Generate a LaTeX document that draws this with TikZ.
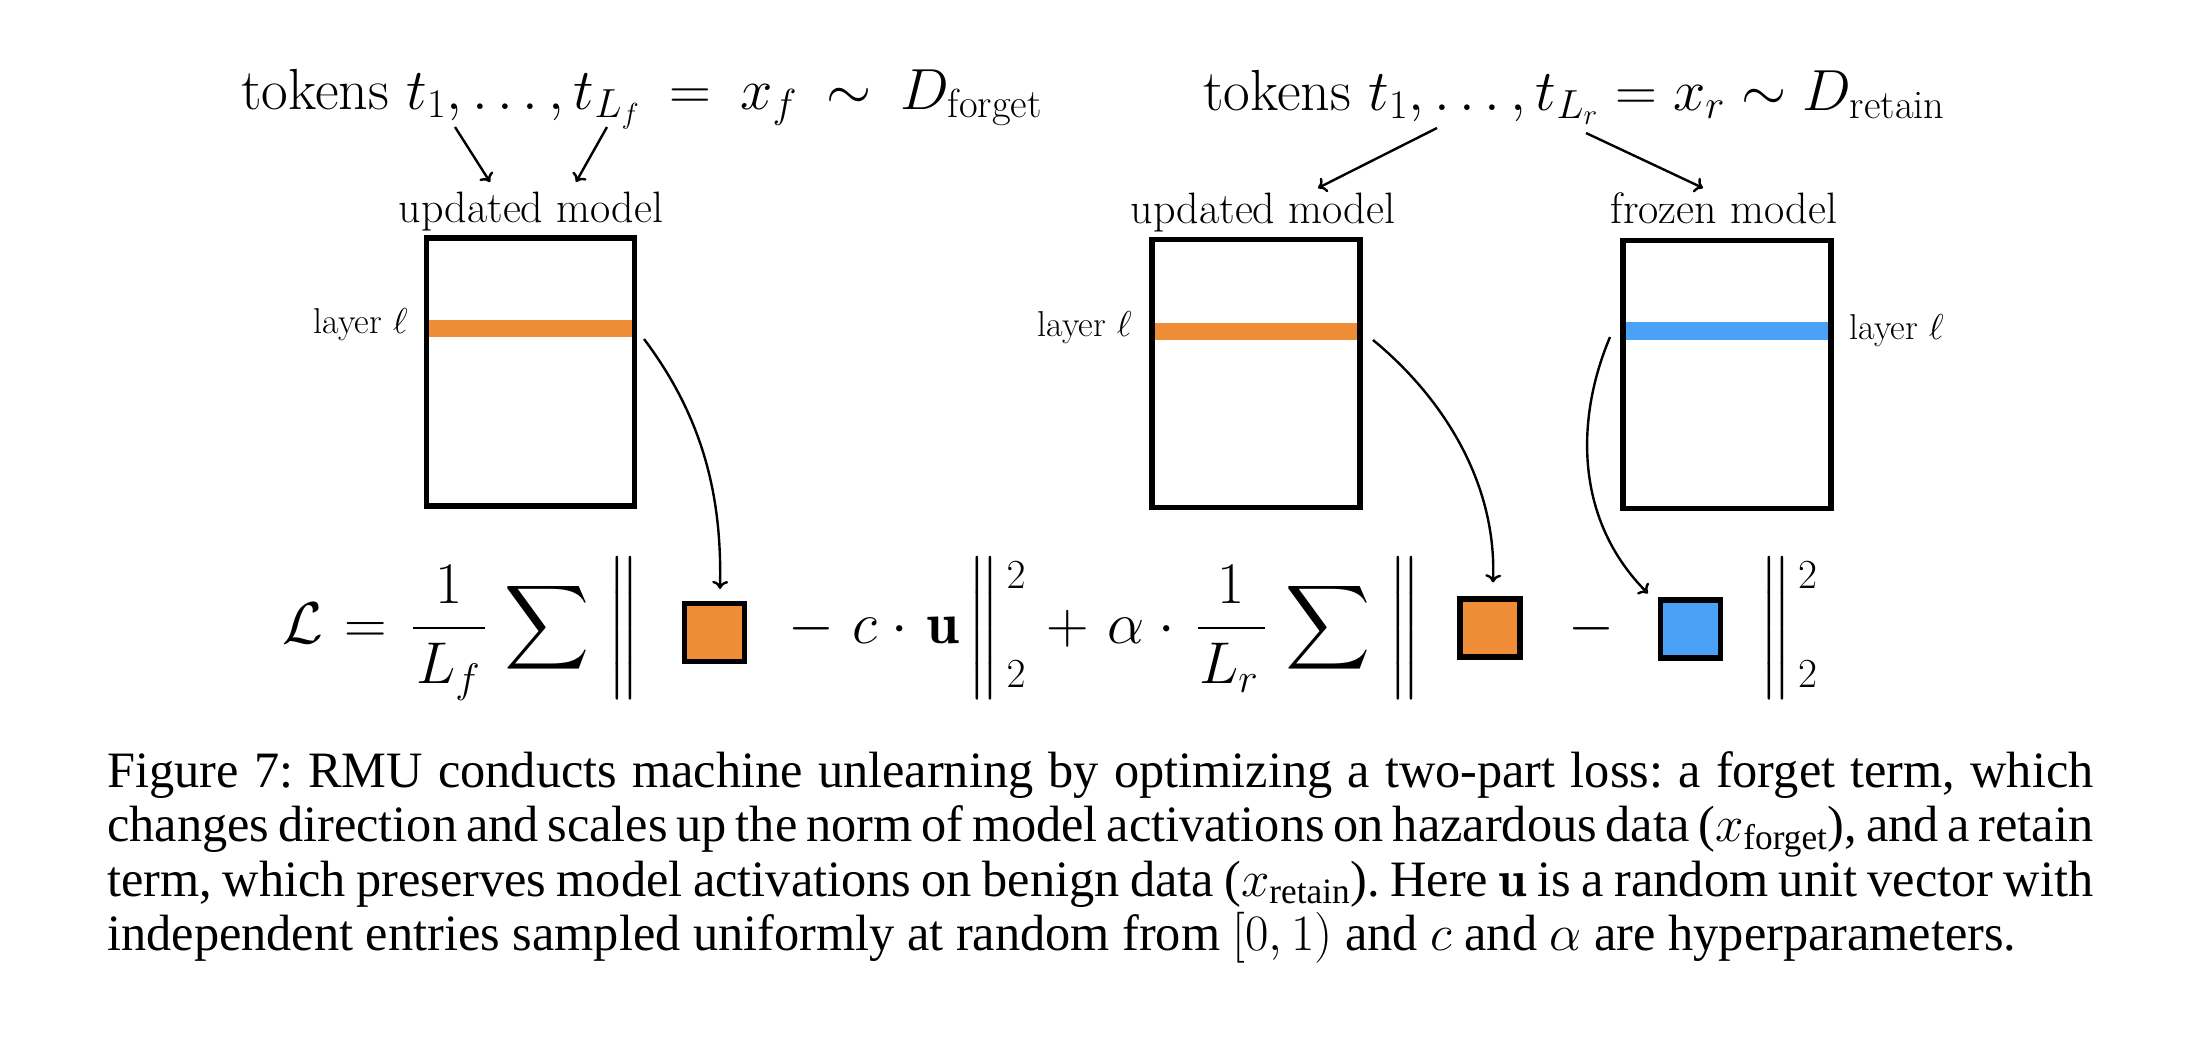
\RequirePackage{fix-cm}
\documentclass[tikz,border=0pt]{standalone}
\usepackage{amsmath}
\usepackage{graphicx}
\usepackage{fontspec}
\DeclareFontShape{OMX}{cmex}{m}{n}{<->cmex10}{}
\newfontfamily\capfont[FakeStretch=0.987]{Liberation Serif}
\usetikzlibrary{arrows.meta,calc}
\definecolor{rmuorange}{RGB}{238,141,53}
\definecolor{rmublue}{RGB}{74,162,247}
\newcommand{\nrmstrut}{\rule[-22pt]{0pt}{58.5pt}}
\newcommand{\nrmbigsum}{\mathop{\mathchar"1358}}
\delimitershortfall=-0.5pt
\delimiterfactor=1001
\tikzset{
  modelbox/.style={draw, line width=2.6pt, minimum width=104pt, minimum height=134pt, inner sep=0pt},
  layerbar/.style={inner sep=0pt, outer sep=0pt, minimum width=104pt, minimum height=8.75pt},
  actsq/.style={draw, line width=2.6pt, minimum width=30pt, minimum height=29pt, inner sep=0pt},
  lbl/.style={inner sep=0pt, font=\fontsize{22}{26}\selectfont},
  lyr/.style={inner sep=0pt, font=\fontsize{18}{22}\selectfont},
  ttl/.style={inner sep=0pt, font=\fontsize{29}{35}\selectfont},
  fml/.style={inner sep=0pt, anchor=base, font=\fontsize{29.5}{35}\selectfont},
  fmlsc/.style={inner sep=0pt, anchor=base, font=\fontsize{20.65}{24}\selectfont},
  arr/.style={-{To[length=4pt,width=8pt]}, line width=1.2pt},
}
\begin{document}
\begin{tikzpicture}[x=0.5pt,y=-0.5pt]
\useasboundingbox (0,0) rectangle (2196,1040);
% titles
\node[ttl, anchor=base west] (tf) at (241,109) {tokens $t_1,\ldots,t_{L_f}\mkern4mu=\mkern4mu x_f\mkern4mu\sim\mkern4mu D_{\text{forget}}$};
\node[ttl, anchor=base west] (tr) at (1203,110) {tokens $t_1,\ldots,t_{L_r} = x_r \sim D_{\text{retain}}$};
% model labels
\node[lbl, anchor=base] (lu1) at (531,222) {updated model};
\node[lbl, anchor=base] (lu2) at (1263,223) {updated model};
\node[lbl, anchor=base] (lfz) at (1724,223) {frozen model};
% layer bars
\node[layerbar, fill=rmuorange] (b1) at (530.5,328.5) {};
\node[layerbar, fill=rmuorange] (b2) at (1256,331.5) {};
\node[layerbar, fill=rmublue] (b3) at (1727,331) {};
% model boxes
\node[modelbox] (m1) at (530.5,372) {};
\node[modelbox] (m2) at (1256,373.5) {};
\node[modelbox] (m3) at (1727,374.5) {};
% layer labels
\node[lyr, anchor=base east] (l1) at (408,333) {layer $\ell$};
\node[lyr, anchor=base east] (l2) at (1132,336) {layer $\ell$};
\node[lyr, anchor=base west] (l3) at (1849,339) {layer $\ell$};
% loss formula
\node[fml] (fL) at (302.5,643) {$\mathcal{L}$};
\node[fml] (feq) at (366,643) {$=$};
\node[fml] (ffr1) at (449,643) {$\displaystyle\frac{1}{\hbox to 36pt{\kern1.5pt$L_f$\hss}}$};
\node[fml] (fs1) at (547.5,643) {$\nrmbigsum$};
\node[fml] (nb1) at (625.5,643) {$\left\|\nrmstrut\right.$};
\node[actsq, fill=rmuorange] (sq1) at (714.5,632.5) {};
\node[fml] (fm1) at (811,643) {$-$};
\node[fml] (fc) at (864.5,643) {$c$};
\node[fml] (fd1) at (900,643) {$\cdot$};
\node[fml] (fu) at (942.5,643) {$\mathbf{u}$};
\node[fml] (nb2) at (982.5,643) {$\left.\nrmstrut\right\|$};
\node[fmlsc] (p1) at (1016,588) {$2$};
\node[fmlsc] (q1) at (1016,687) {$2$};
\node[fml] (fp) at (1067.5,643) {$+$};
\node[fml] (fa) at (1126.5,643) {$\alpha$};
\node[fml] (fd2) at (1167,643) {$\cdot$};
\node[fml] (ffr2) at (1231.5,643) {$\displaystyle\frac{1}{\hbox to 33.5pt{\kern0.5pt$L_r$\hss}}$};
\node[fml] (fs2) at (1328.5,643) {$\nrmbigsum$};
\node[fml] (nb3) at (1406,643) {$\left\|\nrmstrut\right.$};
\node[actsq, fill=rmuorange] (sq2) at (1490,628) {};
\node[fml] (fm2) at (1591,643) {$-$};
\node[actsq, fill=rmublue] (sq3) at (1690.5,629) {};
\node[fml] (nb4) at (1775,643) {$\left.\nrmstrut\right\|$};
\node[fmlsc] (p2) at (1807.5,588) {$2$};
\node[fmlsc] (q2) at (1807.5,687) {$2$};
% connector end points
\coordinate (s1) at (455,127);
\coordinate (e1) at (490,182);
\coordinate (s2) at (607,127);
\coordinate (e2) at (576,182);
\coordinate (s3) at (1437,128);
\coordinate (e3) at (1318,188);
\coordinate (s4) at (1586,133);
\coordinate (e4) at (1703,188);
\coordinate (c1) at (644,339);
\coordinate (c2) at (1373,340);
\coordinate (c3) at (1610,337);
% arrows
\draw[arr] (s1) -- (e1);
\draw[arr] (s2) -- (e2);
\draw[arr] (s3) -- (e3);
\draw[arr] (s4) -- (e4);
\draw[arr] (c1) .. controls (705,420) and (722,500) .. ($(sq1.north)+(5.5,-12)$);
\draw[arr] (c2) .. controls (1440,395) and (1497,480) .. ($(sq2.north)+(3,-14)$);
\draw[arr] (c3) .. controls (1575,420) and (1575,520) .. ($(sq3.north west)+(-10,-4)$);
% caption
\node[anchor=north west, inner sep=0pt,
      font=\capfont\fontsize{25.5}{27.2}\selectfont\frenchspacing] (cap) at (107,749)
 {\vbox{\hsize=993pt
  \hbox to 993pt{\strut Figure 7: RMU conducts machine unlearning by optimizing a two-part loss: a forget term, which}
  \hbox to 993pt{changes direction and scales up the norm of model activations on hazardous data ($x_{\text{forget}}$), and a retain}
  \hbox to 993pt{term, which preserves model activations on benign data ($x_{\text{retain}}$). Here $\mathbf{u}$ is a random unit vector with}
  \hbox{independent entries sampled uniformly at random from $[0, 1)$ and $c$ and $\alpha$ are hyperparameters.}}};
\end{tikzpicture}
\end{document}
